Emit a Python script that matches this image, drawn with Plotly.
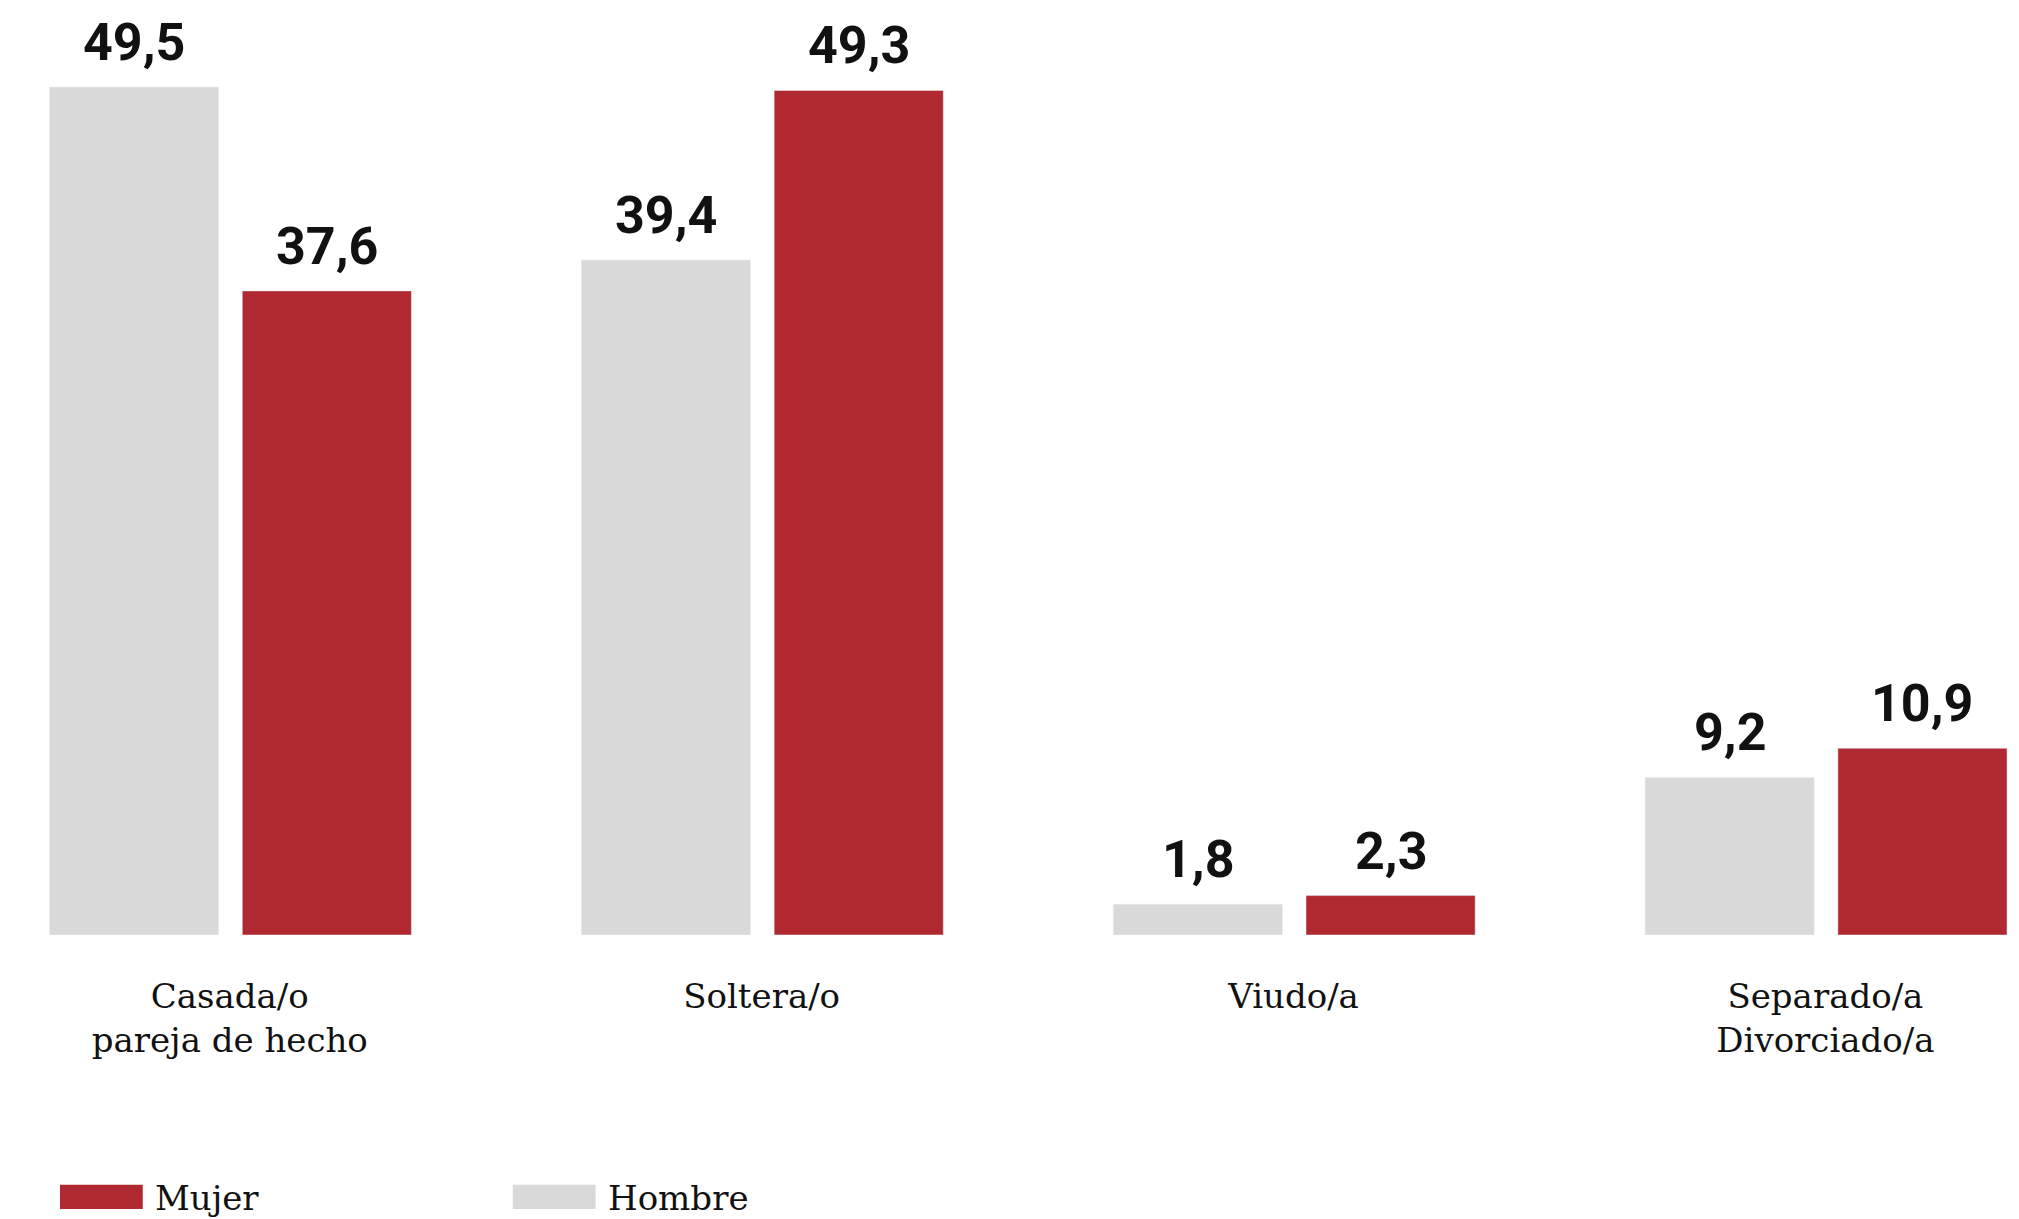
import plotly.graph_objects as go

# ---- data ----
categories = ["Casada/o<br>pareja de hecho", "Soltera/o", "Viudo/a", "Separado/a<br>Divorciado/a"]
hombre = [49.5, 39.4, 1.8, 9.2]
mujer = [37.6, 49.3, 2.3, 10.9]
series_names = ["Hombre", "Mujer"]

# ---- style ----
GREY = "#d9d9d9"
RED = "#b02830"
VAL_FONT = dict(family="Roboto, 'Noto Sans', sans-serif", size=52, color="#111111", weight="bold")
SERIF = "'Roboto Slab', 'DejaVu Serif', serif"
CAT_FONT = dict(family=SERIF, size=34, color="#111111")

positions = list(range(len(categories)))
bar_w = 0.318
off_h = -0.339
off_m = 0.0235


def fmt(v):
    return f"{v:.1f}".replace(".", ",")


fig = go.Figure()
fig.add_trace(go.Bar(x=positions, y=hombre, name=series_names[0], marker_color=GREY,
                     width=bar_w, offset=off_h, showlegend=False, hoverinfo="skip"))
fig.add_trace(go.Bar(x=positions, y=mujer, name=series_names[1], marker_color=RED,
                     width=bar_w, offset=off_m, showlegend=False, hoverinfo="skip"))

annotations = []
for vals, off in ((hombre, off_h), (mujer, off_m)):
    for x, v in zip(positions, vals):
        annotations.append(dict(x=x + off + bar_w / 2, y=v, text=fmt(v), showarrow=False,
                                xref="x", yref="y", yanchor="bottom", yshift=12,
                                font=VAL_FONT))

# legend (wide swatches drawn as shapes, labels as annotations)
legend_items = [(series_names[1], RED, 0.0297), (series_names[0], GREY, 0.254)]
shapes = []
for name, col, x0 in legend_items:
    shapes.append(dict(type="rect", xref="paper", yref="paper", x0=x0, x1=x0 + 0.041,
                       y0=-0.293, y1=-0.267, fillcolor=col, line=dict(width=0)))
    annotations.append(dict(x=x0 + 0.046, y=-0.281, xref="paper", yref="paper",
                            xanchor="left", yanchor="middle", text=name, showarrow=False,
                            font=dict(family=SERIF, size=34, color="#111111")))

fig.update_layout(
    width=2019, height=1219,
    margin=dict(l=0, r=0, t=0, b=284, autoexpand=False),
    paper_bgcolor="white", plot_bgcolor="white",
    barmode="overlay",
    annotations=annotations,
    shapes=shapes,
    showlegend=False,
    xaxis=dict(range=[-0.432, 3.364], tickvals=positions, ticktext=categories,
               showgrid=False, zeroline=False, showline=False, automargin=False,
               ticks="outside", ticklen=31, tickcolor="rgba(0,0,0,0)",
               tickfont=CAT_FONT, fixedrange=True),
    yaxis=dict(range=[0, 54.58], visible=False, fixedrange=True, automargin=False),
)

fig.write_html("out.html",
               config={"displayModeBar": False, "staticPlot": True},
               post_script="document.body.style.margin='0';document.body.style.overflow='hidden';")
